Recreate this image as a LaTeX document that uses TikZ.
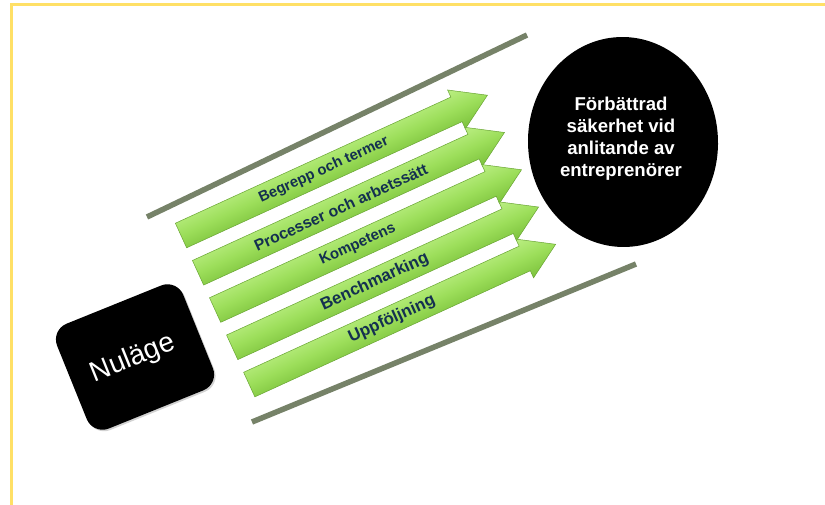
\documentclass[tikz,border=0pt]{standalone}
\usepackage{fontspec}
\setmainfont{Liberation Sans}
\usetikzlibrary{shadows,shapes.geometric}
\definecolor{frameyellow}{RGB}{255,224,102}
\definecolor{barline}{RGB}{118,130,104}
\definecolor{agreen}{RGB}{156,222,90}
\definecolor{agreenlt}{RGB}{186,238,130}
\definecolor{agreendk}{RGB}{124,194,60}
\definecolor{atext}{RGB}{20,48,80}
\begin{document}
\begin{tikzpicture}[x=1pt,y=-1pt,
  barstyle/.style={draw=barline,line width=5.5pt},
  arrowshape/.style={top color=agreenlt,bottom color=agreendk,middle color=agreen,draw=agreendk!85!black,line width=0.5pt,line join=miter},
  arrowtext/.style={text=atext,inner sep=0pt},
  whitetext/.style={text=white,inner sep=0pt,align=center}
]
\useasboundingbox (0,0) rectangle (825,505);
\fill[white] (0,0) rectangle (825,505);
\draw[frameyellow,line width=3pt] (11,505) -- (11,4.8) -- (825,4.8);

% guide bars
\coordinate (b1s) at (147,217);
\coordinate (b1e) at (527,35);
\coordinate (b2s) at (252,422);
\coordinate (b2e) at (636,264);
\draw[barstyle] (b1s) -- (b1e);
\draw[barstyle] (b2s) -- (b2e);

% arrows
\foreach \k/\txt/\fs in {0/Begrepp och termer/14.8,1/Processer och arbetssätt/15.8,2/Kompetens/15,3/Benchmarking/16.8,4/Uppföljning/16.8}{
  \begin{scope}[transform canvas={shift={(181+17.06*\k,235.5+37.27*\k)},rotate=24.6}]
    \path[arrowshape] (0,-13.5) -- (303,-13.5) -- (303,-21.3) -- (337,0) -- (303,21.3) -- (303,13.5) -- (0,13.5) -- cycle;
  \end{scope}
  \begin{scope}[shift={(181+17.06*\k,235.5+37.27*\k)},rotate=24.6]
    \node[arrowtext,rotate=24.6,font=\bfseries\fontsize{\fs}{\fs}\selectfont] (lab\k) at (157,0) {\txt};
  \end{scope}
}

% Nuläge
\node[fill=black,rounded corners=17pt,minimum width=136pt,minimum height=113pt,rotate=22,
  drop shadow={shadow xshift=1.5pt,shadow yshift=-1.5pt,opacity=0.35}] (nulage) at (135,357) {};
\node[whitetext,rotate=22,font=\fontsize{28}{28}\selectfont] (nulagetext) at (133,359) {Nuläge};

% goal
\node[ellipse,fill=black,minimum width=190pt,minimum height=210pt,inner sep=0pt,rotate=2] (goal) at (623,142) {};
\node[whitetext,font=\bfseries\fontsize{18.6}{22.2}\selectfont] (goaltext) at (621,138.5) {Förbättrad\\säkerhet vid\\anlitande av\\entreprenörer};
\end{tikzpicture}
\end{document}
